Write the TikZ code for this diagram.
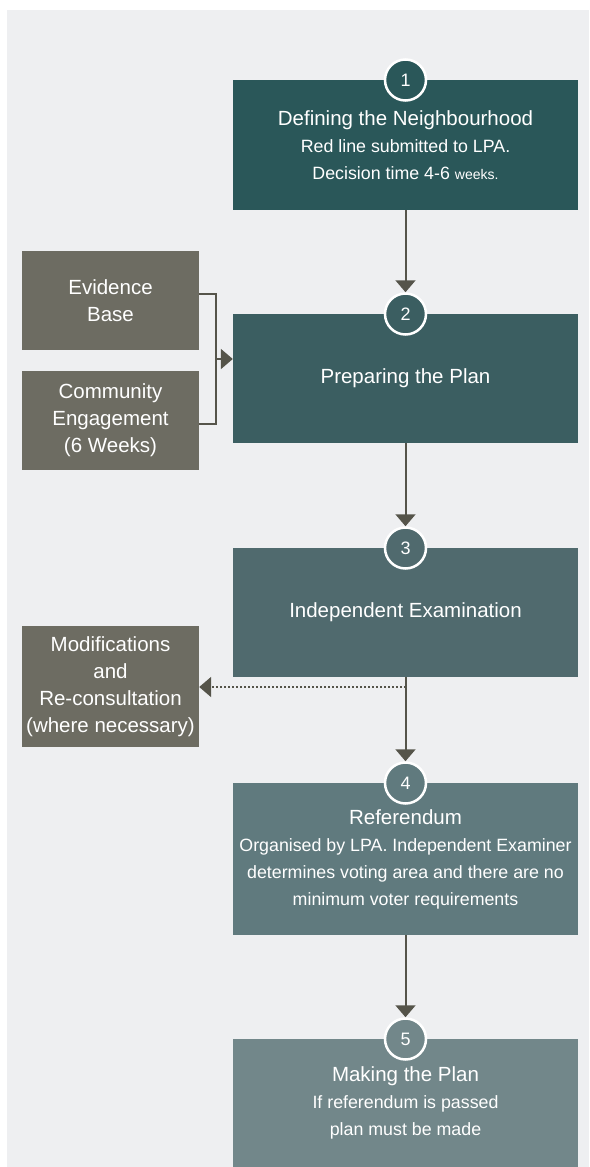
\documentclass[tikz,border=0pt]{standalone}
\usepackage{fontspec}
\setmainfont{Liberation Sans}
\usepackage{xcolor}
\usetikzlibrary{arrows.meta}

\definecolor{panelgray}{RGB}{238,239,241}
\definecolor{stepone}{RGB}{42,87,89}
\definecolor{steptwo}{RGB}{59,94,97}
\definecolor{stepthree}{RGB}{80,106,110}
\definecolor{stepfour}{RGB}{96,122,126}
\definecolor{stepfive}{RGB}{114,135,138}
\definecolor{sidegray}{RGB}{109,108,98}
\definecolor{flowgray}{RGB}{85,84,74}

\newcommand{\subtxt}{\fontsize{17.8}{27}\selectfont}

\begin{document}
\begin{tikzpicture}[x=1pt,y=-1pt,
		stepbox/.style={
			draw=none,
			minimum width=345pt,
			inner sep=0pt,
			align=center,
			text=white,
			font=\fontsize{20.5}{27}\selectfont,
		},
		sidebox/.style={
			fill=sidegray,
			minimum width=177pt,
			inner sep=0pt,
			align=center,
			text=white,
			font=\fontsize{20.5}{27}\selectfont,
		},
		numdisc/.style={
			circle,
			draw=white,
			line width=2.5pt,
			minimum size=41pt,
			inner sep=0pt,
			text=white,
			font=\fontsize{18}{20}\selectfont,
		},
		flow/.style={line width=2pt, draw=flowgray, -{Triangle[width=20pt,length=12pt]}},
		]
		\def\xs{405.5}; \def\xl{110.5}; \def\xj{216};

		% panel
		\fill[white] (0,0) rectangle (589,1167);
		\fill[panelgray] (7,10) rectangle (589,1167);

		% main steps
		\node[stepbox, fill=stepone, minimum height=130pt] (s1) at (\xs,145)
			{Defining the Neighbourhood\\
			 {\subtxt Red line submitted to LPA.}\\
			 {\subtxt Decision time 4-6 {\fontsize{14}{27}\selectfont weeks.}}};
		\node[stepbox, fill=steptwo, minimum height=129pt] (s2) at (\xs,378.5) {Preparing the Plan};
		\node[stepbox, fill=stepthree, minimum height=129pt] (s3) at (\xs,612.5) {Independent Examination};
		\node[stepbox, fill=stepfour, minimum height=152pt] (s4) at (\xs,859)
			{Referendum\\
			 {\subtxt Organised by LPA. Independent Examiner}\\
			 {\subtxt determines voting area and there are no}\\
			 {\subtxt minimum voter requirements}};
		\node[stepbox, fill=stepfive, minimum height=128pt] (s5) at (\xs,1103)
			{Making the Plan\\
			 {\subtxt If referendum is passed}\\
			 {\subtxt plan must be made}};

		% numbers
		\node[numdisc, fill=stepone] (c1) at (\xs,80) {1};
		\node[numdisc, fill=steptwo] (c2) at (\xs,314) {2};
		\node[numdisc, fill=stepthree] (c3) at (\xs,548) {3};
		\node[numdisc, fill=stepfour] (c4) at (\xs,783) {4};
		\node[numdisc, fill=stepfive] (c5) at (\xs,1039) {5};

		% side inputs
		\node[sidebox, minimum height=99pt] (eb) at (\xl,300.5) {Evidence\\Base};
		\node[sidebox, minimum height=99pt] (ce) at (\xl,420.5) {Community\\Engagement\\(6 Weeks)};
		\node[sidebox, minimum height=121pt] (mr) at (\xl,686.5)
			{Modifications\\and\\Re-consultation\\(where necessary)};

		% flow
		\draw[flow] (s1) -- (c2);
		\draw[flow] (s2) -- (c3);
		\draw[flow] (s3) -- (c4);
		\draw[flow] (s4) -- (c5);

		\coordinate (ja) at (\xj,294);
		\coordinate (jb) at (\xj,424);
		\coordinate (jn) at (\xj,359);
		\draw[line width=2pt, flowgray] (ja -| eb.east) -- (ja) -- (jb) -- (jb -| ce.east);
		\draw[flow] (jn) -- (jn -| s2.west);

		\coordinate (dt) at (\xs,687);
		\draw[flow, dash pattern=on 2pt off 2pt] (dt) -- (dt -| mr.east);
	\end{tikzpicture}
\end{document}
